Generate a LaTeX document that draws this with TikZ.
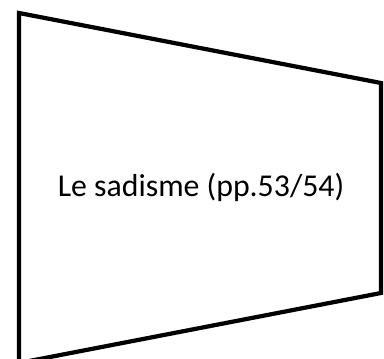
\documentclass[tikz,border=0pt]{standalone}
\usepackage{fontspec}
\setmainfont{Carlito}
\usepackage{tikz}
\usetikzlibrary{positioning}
\tikzset{
	frameline/.style={draw=black, line width=2.4pt, line join=miter},
	labeltext/.style={font=\fontsize{18.1pt}{21pt}\selectfont, text=black, inner sep=0pt}
}

\begin{document}
\begin{tikzpicture}
		\useasboundingbox (0,0) rectangle (7.68,7.16);
		
		\coordinate (tl) at (0.38,6.90);
		\coordinate (tr) at (7.62,5.50);
		\coordinate (br) at (7.62,1.30);
		\coordinate (bl) at (0.38,-0.10);
		
		\draw[frameline] (tl) -- (tr) -- (br) -- (bl) -- cycle;
		
		\node[labeltext, anchor=base] at (4.02,3.22) (sad) {Le sadisme (pp.53/54)};
	\end{tikzpicture}
\end{document}
